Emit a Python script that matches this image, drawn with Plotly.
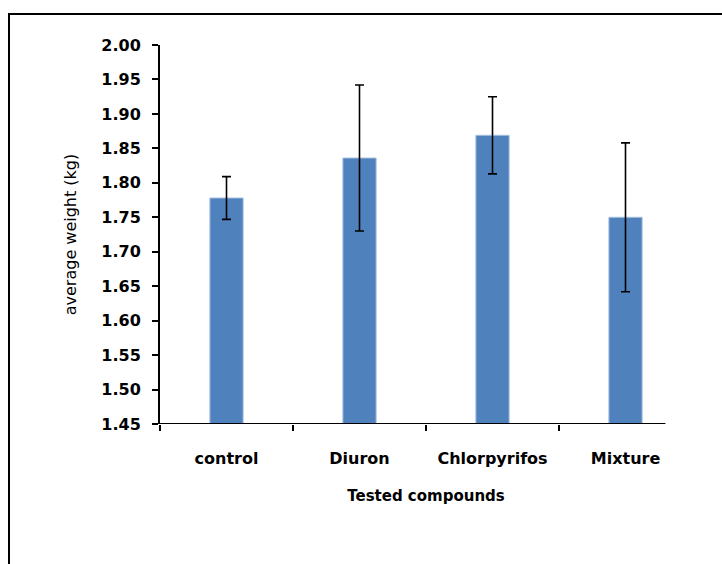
import plotly.graph_objects as go

categories = ["control", "Diuron", "Chlorpyrifos", "Mixture"]
means = [1.778, 1.836, 1.869, 1.750]
errors = [0.031, 0.106, 0.056, 0.108]
y_ticks = [1.45, 1.50, 1.55, 1.60, 1.65, 1.70, 1.75, 1.80, 1.85, 1.90, 1.95, 2.00]

FONT = "DejaVu Sans"

fig = go.Figure()
fig.add_trace(go.Bar(
    x=categories, y=[m - 1.45 for m in means], base=1.45,
    width=0.25,
    marker=dict(color="#4F81BD", line=dict(color="#A9C1E0", width=1)),
    error_y=dict(type="data", array=errors, color="black", thickness=1.6, width=4.5),
    showlegend=False, hoverinfo="skip",
))
# invisible trace on secondary x axis for boundary ticks
fig.add_trace(go.Scatter(x=[-0.5], y=[1.45], xaxis="x2", mode="markers",
                         marker=dict(opacity=0), showlegend=False, hoverinfo="skip"))

L, R, T, B = 160, 30, 45, 140
W, H = 722, 564
pw, ph = W - L - R, H - T - B

def px(x):
    return (x - L) / pw

def py(y):
    return (H - B - y) / ph

fig.update_layout(
    width=W, height=H,
    margin=dict(l=L, r=R, t=T, b=B),
    paper_bgcolor="white", plot_bgcolor="white",
    font=dict(family=FONT, color="black"),
    bargap=0.75,
    xaxis=dict(
        type="category", range=[-0.5, 3.5],
        showline=False, ticks="", showgrid=False, zeroline=False,
        tickfont=dict(family=FONT, size=16, color="black", weight="bold"),
        ticklabelstandoff=23,
        title=dict(text="Tested compounds", standoff=23,
                   font=dict(family=FONT, size=15, color="black", weight="bold")),
    ),
    xaxis2=dict(
        overlaying="x", range=[-0.5, 3.5], tickvals=[-0.5, 0.5, 1.5, 2.5],
        ticks="outside", ticklen=6, tickwidth=2, tickcolor="black",
        showticklabels=False, showline=False, showgrid=False, zeroline=False,
        side="bottom", anchor="y",
    ),
    yaxis=dict(
        range=[1.45, 2.00], tickvals=y_ticks, tickformat=".2f",
        ticks="outside", ticklen=6, tickwidth=2, tickcolor="black",
        showline=True, linecolor="black", linewidth=2,
        showgrid=False, zeroline=False,
        tickfont=dict(family=FONT, size=16, color="black", weight="bold"),
        ticklabelstandoff=8,
        title=dict(text="average weight (kg)", standoff=21,
                   font=dict(family=FONT, size=16, color="black")),
    ),
    shapes=[
        dict(type="line", xref="x2", yref="y", x0=-0.5, x1=3.3, y0=1.45, y1=1.45,
             line=dict(color="black", width=2)),
        dict(type="line", xref="paper", yref="paper", x0=px(9), x1=px(9),
             y0=py(570), y1=py(14), line=dict(color="black", width=2)),
        dict(type="line", xref="paper", yref="paper", x0=px(8), x1=px(730),
             y0=py(14), y1=py(14), line=dict(color="black", width=2)),
    ],
)

fig.write_html("out.html", config={"displayModeBar": False},
               post_script="document.body.style.margin='0';document.body.style.overflow='hidden';")
